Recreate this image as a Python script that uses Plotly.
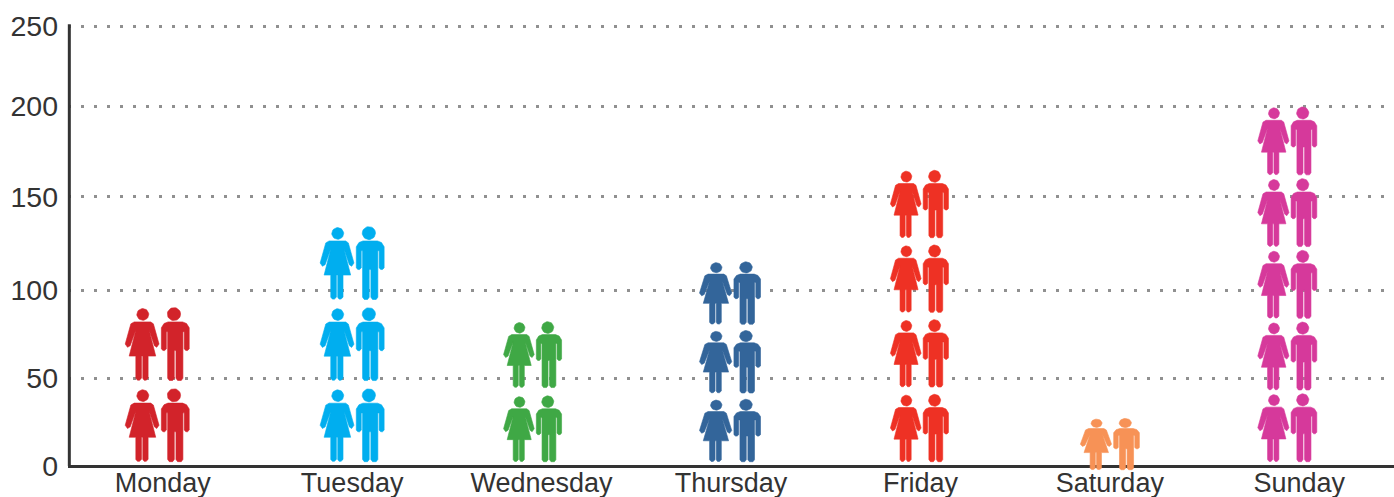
import numpy as np
import plotly.graph_objects as go

# ---- data ----
days = ["Monday", "Tuesday", "Wednesday", "Thursday", "Friday", "Saturday", "Sunday"]
values = [90, 136, 82, 116, 168, 27, 204]      # top of each pictogram stack
rows = [2, 3, 2, 3, 4, 1, 5]                   # rows of figures in each stack
y_tick_labels = ["0", "50", "100", "150", "200", "250"]
y_tick_positions = [0, 50, 100, 153, 204.5, 250]

# ---- styling ----
colors = ["#D2232A", "#00AEEF", "#3FA845", "#33659A", "#EE3124", "#F79256", "#D6399B"]
PX_PER_Y = 1.76
L, R, T, B = 68, 0, 22, 23
W, H = 1394, 497
PX_PER_X = (W - L - R) / 7
pair_width_px = [64, 64, 58, 61, 58, 59, 59]
center_shift_px = [-5.5, 0, -9, -1, -1, 0, -12]
row_gap_px = [8, 8, 8, 6, 7, 0, 3.5]
bottom_px = [4, 4, 4, 4, 4, -4, 4]

# figure outline, drawn in a 193 x 225 box
BOX_X0, BOX_Y1, BOX_W, BOX_H = 43, 243, 193, 225
woman = [(70,62),(120,62),(128,68),(145,130),(138,140),(131,135),(115,87),(135,167),(112,167),
         (112,235),(106,241),(100,241),(96,235),(96,167),(92,167),(92,235),(86,241),(80,241),
         (75,235),(75,167),(55,167),(75,87),(58,135),(50,140),(43,130),(60,68)]
man = [(172,62),(216,62),(228,67),(236,80),(236,145),(231,150),(226,150),(221,145),(221,92),
       (217,92),(217,235),(212,242),(201,242),(196,235),(196,150),(191,150),(191,235),(186,242),
       (176,242),(171,235),(171,92),(167,92),(167,145),(162,150),(157,150),(152,145),(152,80),(160,67)]
def circle(cx, cy, r):
    return [(cx + r * np.cos(t), cy + r * np.sin(t)) for t in np.linspace(0, 2 * np.pi, 33)]
polys = [woman, circle(96, 39, 18), man, circle(190, 38, 20)]

fig = go.Figure()
for i, day in enumerate(days):
    gap = row_gap_px[i] / PX_PER_Y
    base = bottom_px[i] / PX_PER_Y
    icon_h = (values[i] - base - (rows[i] - 1) * gap) / rows[i]
    icon_w = pair_width_px[i] / PX_PER_X
    cx = i + center_shift_px[i] / PX_PER_X
    xs, ys = [], []
    for r in range(rows[i]):
        y0 = base + r * (icon_h + gap)
        for poly in polys:
            for px, py in poly:
                xs.append(cx + ((px - BOX_X0) / BOX_W - 0.5) * icon_w)
                ys.append(y0 + (BOX_Y1 - py) / BOX_H * icon_h)
            xs.append(xs[-len(poly)])
            ys.append(ys[-len(poly)])
            xs.append(None)
            ys.append(None)
    fig.add_trace(go.Scatter(x=xs, y=ys, mode="lines", fill="toself", fillcolor=colors[i],
                             line=dict(width=0.6, color=colors[i]), name=day,
                             showlegend=False, hoverinfo="name"))

span = (H - T - B) / PX_PER_Y
y_top = (466 - T) / PX_PER_Y
fig.update_layout(
    width=W, height=H, margin=dict(l=L, r=R, t=T, b=B, pad=0),
    paper_bgcolor="white", plot_bgcolor="white", showlegend=False,
    font=dict(family="Liberation Sans, Arial, sans-serif", color="#333333"),
    xaxis=dict(range=[-0.5, 6.5], tickmode="array", tickvals=list(range(7)), ticktext=days, automargin=False,
               showgrid=False, zeroline=False, showline=False, ticks="", ticklabelstandoff=-10,
               tickfont=dict(size=27, color="#333333")),
    yaxis=dict(range=[y_top - span, y_top], tickmode="array", tickvals=y_tick_positions, automargin=False,
               ticktext=y_tick_labels, showgrid=True, gridcolor="#909090", gridwidth=2.5,
               griddash="2.5px,10.5px", zeroline=True, zerolinecolor="#333333", zerolinewidth=3,
               showline=False, ticks="", ticklabelstandoff=9, tickfont=dict(size=28.5, color="#333333")),
    shapes=[dict(type="line", xref="paper", yref="y", x0=0.001, x1=0.001, y0=0, y1=251,
                 line=dict(color="#333333", width=3))],
)
fig.write_html("out.html", config=dict(displayModeBar=False),
               post_script="document.body.style.margin='0';document.documentElement.style.overflow='hidden';")
